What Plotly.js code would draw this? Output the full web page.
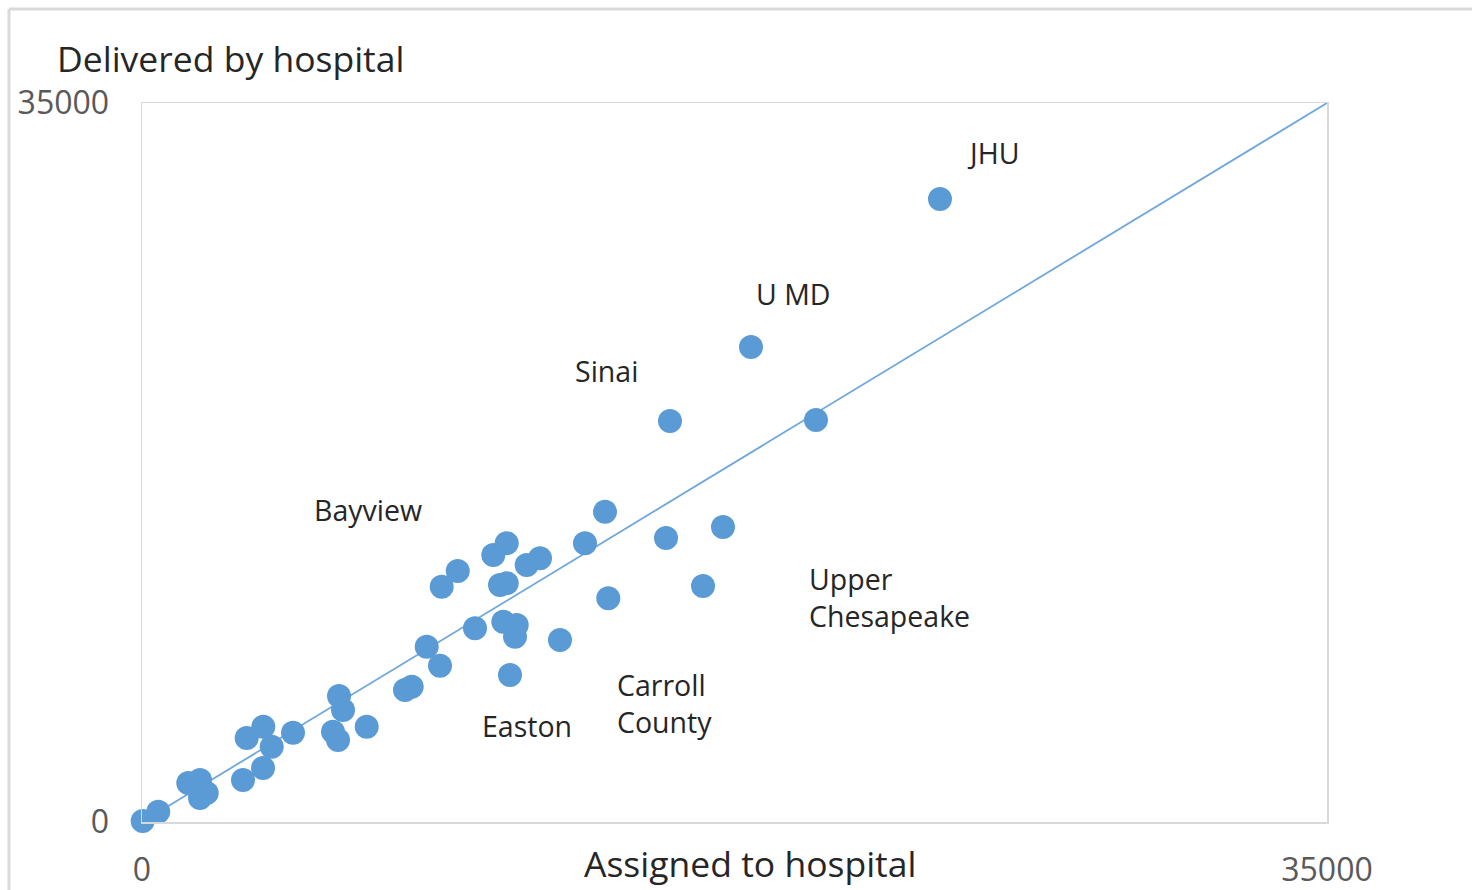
<!DOCTYPE html>
<html>
<head>
<meta charset="utf-8">
<script src="https://cdn.plot.ly/plotly-3.0.1.min.js"></script>
<style>html,body{margin:0;padding:0;background:#fff;}#chart{width:1472px;height:890px;}</style>
</head>
<body>
<div id="chart"></div>
<script>
// Assigned to hospital (x) vs delivered by hospital (y)
const assigned = [20, 481, 1367, 1713, 1911, 1713, 2983, 3574, 3092, 3583, 3831, 4460,
  5819, 5937, 5641, 5789, 6637, 7768, 7966, 8409, 8802, 8852, 9325, 9835, 10376, 10772,
  10574, 10772, 10671, 11067, 11017, 10869, 11362, 11755, 12346, 13084, 13675, 13772,
  15477, 17160, 16570, 15595, 17987, 19907, 23569];
const delivered = [50, 501, 1898, 2044, 1411, 1168, 2044, 2629, 4089, 4639, 3666, 4347,
  6134, 5452, 4396, 3992, 4639, 6426, 6586, 8533, 7609, 11454, 12218, 9429, 12997, 13567,
  11537, 11620, 9750, 9590, 9020, 7156, 12510, 12836, 8860, 13567, 15105, 10890,
  13825, 14360, 11488, 19523, 23123, 19569, 30327];

const equalityX = [0, 35000];
const equalityY = [0, 35000];

const tickValues = [0, 35000];
const tickLabels = ['0', '35000'];

const labelTexts = ['JHU', 'U MD', 'Sinai', 'Bayview', 'Upper<br>Chesapeake', 'Carroll<br>County', 'Easton'];
const labelX = [25135, 19228, 13734, 6675, 19641, 13971, 11371];
const labelY = [32566, 25703, 21954, 15188, 10929, 5768, 4673];
const labelAnchor = ['center', 'center', 'center', 'center', 'left', 'left', 'center'];

const FONT = "'Open Sans', sans-serif";

const traces = [
  {x: equalityX, y: equalityY, mode: 'lines', type: 'scatter',
   line: {color: '#6fa7dc', width: 1.8}, hoverinfo: 'skip', showlegend: false},
  {x: assigned, y: delivered, mode: 'markers', type: 'scatter', cliponaxis: false,
   marker: {color: '#5b9bd5', size: 24}, showlegend: false}
];

const annotations = labelTexts.map((t, i) => ({
  x: labelX[i], y: labelY[i], xref: 'x', yref: 'y', text: t, showarrow: false,
  xanchor: labelAnchor[i], yanchor: 'middle', align: 'left',
  font: {family: FONT, size: 28.5, color: '#262626'}
}));
annotations.push({
  x: 0.513, y: -0.057, xref: 'paper', yref: 'paper', text: 'Assigned to hospital',
  showarrow: false, xanchor: 'center', yanchor: 'middle',
  font: {family: FONT, size: 35.5, color: '#262626'}
});

const axisCommon = {
  range: [0, 35000], showgrid: false, zeroline: false,
  showline: true, mirror: true, linecolor: '#d9d9d9', linewidth: 1.5,
  tickmode: 'array', tickvals: tickValues, ticktext: tickLabels,
  ticks: '', tickfont: {family: FONT, size: 32, color: '#595959'}
};

const layout = {
  width: 1472, height: 890,
  margin: {l: 142, r: 145, t: 103, b: 68},
  paper_bgcolor: '#ffffff', plot_bgcolor: '#ffffff',
  title: {text: 'Delivered by hospital', x: 57 / 1472, xref: 'container', xanchor: 'left',
          y: 1 - 60 / 890, yref: 'container', yanchor: 'middle',
          font: {family: FONT, size: 35.5, color: '#262626'}},
  xaxis: Object.assign({}, axisCommon, {ticklabelstandoff: 19}),
  yaxis: Object.assign({}, axisCommon, {ticklabelstandoff: 25}),
  annotations: annotations,
  shapes: [
    {type: 'line', xref: 'paper', yref: 'paper', x0: (9 - 142) / 1185, x1: (9 - 142) / 1185,
     y0: (822 - 9) / 719, y1: (822 - 895) / 719, line: {color: '#d9d9d9', width: 3}},
    {type: 'line', xref: 'paper', yref: 'paper', x0: (9 - 142) / 1185, x1: (1480 - 142) / 1185,
     y0: (822 - 9) / 719, y1: (822 - 9) / 719, line: {color: '#d9d9d9', width: 3}}
  ]
};

Plotly.newPlot('chart', traces, layout, {staticPlot: true, displayModeBar: false});
</script>
</body>
</html>
